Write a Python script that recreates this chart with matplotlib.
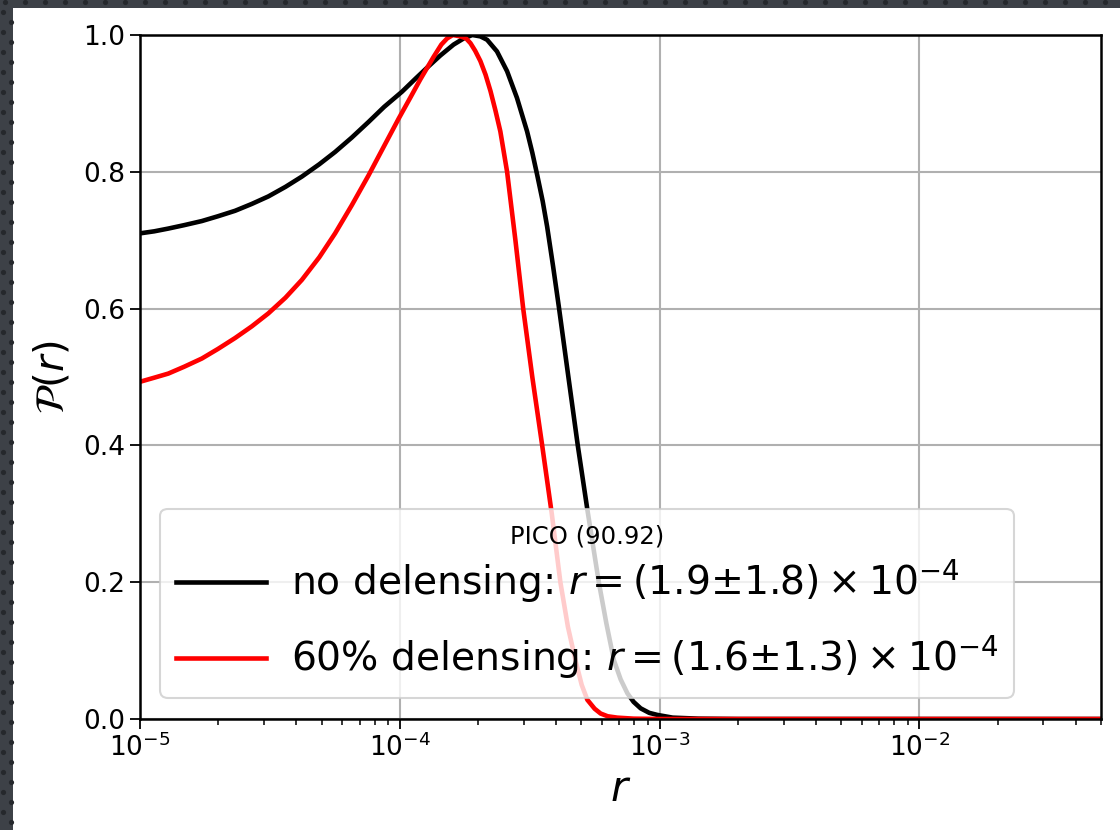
import numpy as np
import matplotlib
matplotlib.use("Agg")
import matplotlib.pyplot as plt
from matplotlib.patches import Rectangle

# Posterior of the tensor-to-scalar ratio r for PICO, without and with 60% delensing
r_nodelens = [1.000e-5, 1.135e-5, 1.285e-5, 1.479e-5, 1.730e-5, 1.995e-5, 2.323e-5,
              2.692e-5, 3.119e-5, 3.631e-5, 4.198e-5, 4.898e-5, 5.636e-5, 6.531e-5,
              7.586e-5, 8.710e-5, 1.019e-4, 1.148e-4, 1.288e-4, 1.432e-4, 1.611e-4,
              1.762e-4, 1.901e-4, 2.042e-4, 2.168e-4, 2.366e-4, 2.588e-4, 2.825e-4,
              3.090e-4, 3.236e-4, 3.381e-4, 3.548e-4, 3.690e-4, 3.890e-4, 4.093e-4,
              4.467e-4, 4.842e-4, 5.272e-4, 5.834e-4, 6.237e-4, 6.668e-4, 7.079e-4,
              7.516e-4, 7.943e-4, 8.453e-4, 9.120e-4, 9.795e-4, 1.122e-3, 1.413e-3,
              1.995e-3, 5.000e-2]
P_nodelens = [0.710, 0.713, 0.717, 0.722, 0.728, 0.735, 0.743,
              0.753, 0.764, 0.778, 0.793, 0.811, 0.829, 0.850,
              0.873, 0.895, 0.917, 0.936, 0.954, 0.970, 0.986,
              0.995, 1.000, 0.998, 0.993, 0.976, 0.947, 0.908,
              0.859, 0.828, 0.795, 0.757, 0.720, 0.662, 0.603,
              0.497, 0.400, 0.306, 0.200, 0.140, 0.086, 0.058,
              0.0376, 0.025, 0.0156, 0.009, 0.006, 0.002, 0.0005,
              0.0, 0.0]

r_delens = [1.000e-5, 1.135e-5, 1.285e-5, 1.479e-5, 1.730e-5, 1.995e-5, 2.323e-5,
            2.692e-5, 3.119e-5, 3.631e-5, 4.198e-5, 4.898e-5, 5.636e-5, 6.531e-5,
            7.586e-5, 8.710e-5, 9.908e-5, 1.096e-4, 1.199e-4, 1.349e-4, 1.445e-4,
            1.521e-4, 1.600e-4, 1.710e-4, 1.799e-4, 1.871e-4, 1.950e-4, 2.042e-4,
            2.138e-4, 2.234e-4, 2.333e-4, 2.438e-4, 2.588e-4, 2.786e-4, 2.985e-4,
            3.236e-4, 3.532e-4, 3.846e-4, 4.150e-4, 4.436e-4, 4.742e-4, 5.012e-4,
            5.272e-4, 5.623e-4, 5.929e-4, 6.310e-4, 6.871e-4, 7.943e-4, 1.000e-3,
            5.000e-2]
P_delens = [0.493, 0.499, 0.505, 0.515, 0.527, 0.541, 0.557,
            0.574, 0.593, 0.616, 0.642, 0.675, 0.710, 0.751,
            0.795, 0.838, 0.878, 0.908, 0.935, 0.968, 0.986,
            0.995, 1.000, 0.998, 0.995, 0.988, 0.977, 0.962,
            0.942, 0.918, 0.890, 0.859, 0.800, 0.700, 0.600,
            0.500, 0.400, 0.300, 0.200, 0.135, 0.086, 0.050,
            0.028, 0.015, 0.008, 0.004, 0.002, 0.0005, 0.0,
            0.0]

label_nodelens = r"no delensing: $r = (1.9{\pm}1.8)\times10^{-4}$"
label_delens = r"60% delensing: $r = (1.6{\pm}1.3)\times10^{-4}$"
legend_title = "PICO (90.92)"

W, H = 1120, 830
fig = plt.figure(figsize=(W / 100, H / 100), dpi=100)
fig.patch.set_facecolor("white")

# dark dotted frame along the top and left edges of the canvas
frame_col = "#3d4147"
dot_col = "#25282c"
frame_ax = fig.add_axes([0, 0, 1, 1], facecolor="none", zorder=-1)
frame_ax.set_xlim(0, W)
frame_ax.set_ylim(H, 0)
frame_ax.axis("off")
frame_ax.add_patch(Rectangle((0, 0), W, 8, facecolor=frame_col, edgecolor="none"))
frame_ax.add_patch(Rectangle((0, 0), 13, H, facecolor=frame_col, edgecolor="none"))
top_x = np.arange(5, W, 20)
frame_ax.scatter(top_x, np.full(top_x.shape, 2.5), s=14, color=dot_col, linewidths=0)
side_y = np.arange(12, H, 20)
frame_ax.scatter(np.full(side_y.shape, 3.0), side_y, s=14, color=dot_col, linewidths=0)
frame_ax.scatter(np.full(side_y.shape, 10.5), side_y + 10, s=14, color=dot_col, linewidths=0)

ax = fig.add_axes([140 / W, 1 - 719 / H, 961 / W, 684 / H])
ax.plot(r_nodelens, P_nodelens, color="black", lw=3.3, label=label_nodelens)
ax.plot(r_delens, P_delens, color="red", lw=3.3, label=label_delens)

ax.set_xscale("log")
ax.set_xlim(1e-5, 5e-2)
ax.set_ylim(0, 1)
ax.grid(True, which="major", color="#b0b0b0", lw=1.5)
ax.set_yticks([0.0, 0.2, 0.4, 0.6, 0.8, 1.0])
ax.tick_params(axis="both", which="major", labelsize=19, length=7, width=1.3)
ax.tick_params(axis="x", which="minor", length=4, width=1.1)
for s in ax.spines.values():
    s.set_linewidth(1.8)

ax.set_xlabel(r"$r$", fontsize=30, labelpad=4)
ax.set_ylabel(r"$\mathcal{P}(r)$", fontsize=29, labelpad=8)

leg = ax.legend(title=legend_title, title_fontsize=17.5, fontsize=28.3,
                loc="lower left", bbox_to_anchor=(0.021, 0.031), borderaxespad=0,
                handlelength=2.3, handletextpad=0.62, labelspacing=0.70,
                borderpad=0.40, framealpha=0.8, fancybox=True)
leg.get_frame().set_linewidth(1.5)
# tighter gap between the title and the entries
leg._legend_box.sep = 6.8

fig.savefig("out.png", dpi=100)
